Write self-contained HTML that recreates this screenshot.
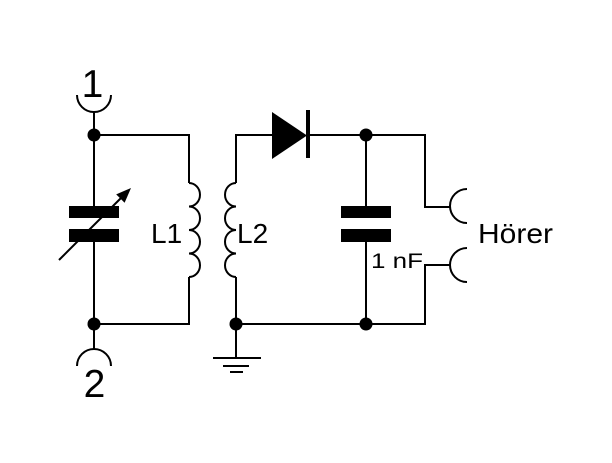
<!DOCTYPE html>
<html><head><meta charset="utf-8"><style>
html,body{margin:0;padding:0;background:#fff;}
svg{display:block;}
text{font-family:"Liberation Sans",Arial,sans-serif;fill:#000;}
</style></head><body>
<svg width="612" height="463" viewBox="0 0 612 463" xmlns="http://www.w3.org/2000/svg">
<rect width="612" height="463" fill="#fff"/>
<g fill="none" stroke="#000" stroke-width="2">
  <!-- terminal 1 -->
  <path d="M77,95 A17,17 0 0 0 111,95"/>
  <line x1="94" y1="112" x2="94" y2="206"/>
  <!-- terminal 2 -->
  <path d="M77,366 A17,17 0 0 1 111,366"/>
  <line x1="94" y1="242" x2="94" y2="349"/>
  <!-- top-left wire to L1 -->
  <polyline points="94,135 189,135 189,183"/>
  <!-- L1 coil -->
  <path d="M189,183 a11,11.75 0 0 1 0,23.5 a11,11.75 0 0 1 0,23.5 a11,11.75 0 0 1 0,23.5 a11,11.75 0 0 1 0,23.5"/>
  <polyline points="189,277 189,324 94,324"/>
  <!-- L2 coil -->
  <polyline points="236,183 236,135 272,135"/>
  <path d="M236,183 a11,11.75 0 0 0 0,23.5 a11,11.75 0 0 0 0,23.5 a11,11.75 0 0 0 0,23.5 a11,11.75 0 0 0 0,23.5"/>
  <line x1="236" y1="277" x2="236" y2="358"/>
  <!-- ground -->
  <line x1="213" y1="358" x2="261" y2="358"/>
  <line x1="223" y1="366" x2="249" y2="366"/>
  <line x1="230" y1="372" x2="243" y2="372"/>
  <!-- diode right wire -->
  <polyline points="308,135 425,135 425,207 450,207"/>
  <!-- cap C -->
  <line x1="366" y1="135" x2="366" y2="206"/>
  <line x1="366" y1="242" x2="366" y2="324"/>
  <!-- bottom wire -->
  <polyline points="236,324 425,324 425,265 450,265"/>
  <!-- earphone arcs -->
  <path d="M467,189 A17,17 0 0 0 467,223"/>
  <path d="M467,248 A17,17 0 0 0 467,282"/>
  <!-- variable arrow line -->
  <line x1="59" y1="260" x2="122" y2="197"/>
</g>
<g fill="#000">
  <!-- plates -->
  <rect x="69" y="206" width="50" height="12"/>
  <rect x="69" y="229" width="50" height="13"/>
  <rect x="341" y="206" width="50" height="12"/>
  <rect x="341" y="229" width="50" height="13"/>
  <!-- arrowhead -->
  <polygon points="131,188 124.6,202.8 116.2,194.4"/>
  <!-- diode -->
  <polygon points="272,112 272,159 307,135.5"/>
  <rect x="306" y="110" width="4" height="48"/>
  <!-- dots -->
  <circle cx="94" cy="135" r="6.5"/>
  <circle cx="94" cy="324" r="6.5"/>
  <circle cx="236" cy="324" r="6.5"/>
  <circle cx="366" cy="135" r="6.5"/>
  <circle cx="366" cy="324" r="6.5"/>
</g>
<text x="92.5" y="97" font-size="39" text-anchor="middle">1</text>
<text x="94.5" y="397" font-size="39" text-anchor="middle">2</text>
<text x="151" y="243" font-size="28">L1</text>
<text x="237" y="243" font-size="28">L2</text>
<text x="478" y="243" font-size="28" textLength="75" lengthAdjust="spacingAndGlyphs">Hörer</text>
<text x="371" y="268" font-size="21" textLength="52" lengthAdjust="spacingAndGlyphs">1 nF</text>
</svg>
</body></html>
